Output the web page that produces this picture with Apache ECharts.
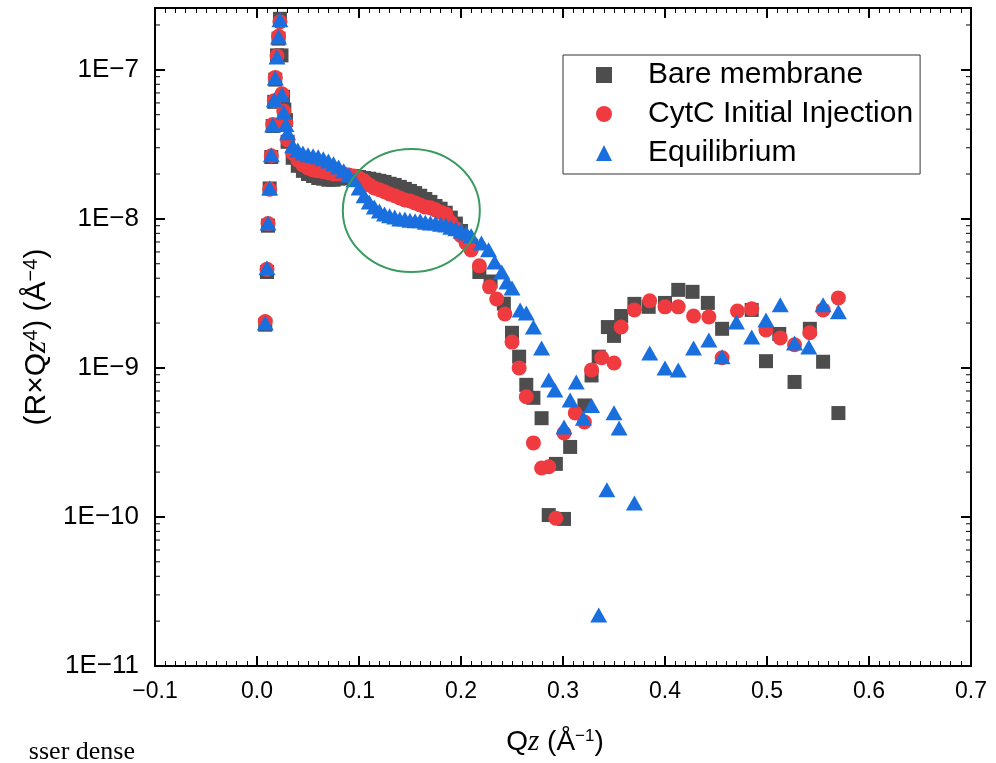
<!DOCTYPE html>
<html><head><meta charset="utf-8">
<script src="https://cdn.jsdelivr.net/npm/echarts@6/dist/echarts.min.js"></script>
<style>html,body{margin:0;padding:0;background:#fff}#c{width:996px;height:763px}</style>
</head><body><div id="c"></div>
<script>
// ---------- data (Qz in 1/Å, R×Qz^4 in Å^-4) ----------
const seriesNames = ['Bare membrane', 'CytC Initial Injection', 'Equilibrium'];

const qBare = [0.0081,0.0098,0.0108,0.0124,0.0140,0.0154,0.0169,0.0179,0.0196,0.0211,0.0225,0.0240,0.0255,0.0268,0.0284,
  0.030,0.035,0.040,0.045,0.050,0.055,0.060,0.065,0.070,0.075,0.080,0.085,0.090,0.095,0.100,0.105,0.110,0.115,0.120,0.125,
  0.130,0.135,0.140,0.145,0.150,0.155,0.160,0.165,0.170,0.175,0.180,0.185,0.190,0.195,0.200,0.205,0.210,
  0.218,0.229,0.242,0.250,0.257,0.264,0.271,0.279,0.286,0.293,0.301,0.307,0.321,0.328,0.335,0.344,0.350,0.357,0.370,0.384,
  0.400,0.413,0.427,0.442,0.456,0.485,0.499,0.512,0.527,0.542,0.555,0.570];
const rBare = [1.95e-9,4.4e-9,9.0e-9,1.6e-8,2.6e-8,4.2e-8,6.1e-8,8.6e-8,1.25e-7,1.62e-7,2.2e-7,1.25e-7,6.6e-8,5.4e-8,4.6e-8,
  3.29e-8,2.57e-8,2.27e-8,2.10e-8,2.00e-8,1.94e-8,1.88e-8,1.86e-8,1.83e-8,1.83e-8,1.86e-8,1.88e-8,1.91e-8,1.94e-8,1.91e-8,1.88e-8,1.86e-8,1.83e-8,1.80e-8,1.77e-8,
  1.72e-8,1.69e-8,1.64e-8,1.59e-8,1.54e-8,1.49e-8,1.43e-8,1.36e-8,1.30e-8,1.22e-8,1.17e-8,1.10e-8,1.02e-8,9.3e-9,8.3e-9,7.45e-9,6.6e-9,
  4.4e-9,3.8e-9,2.7e-9,1.72e-9,1.19e-9,7.7e-10,6.3e-10,4.6e-10,1.03e-10,2.27e-10,9.7e-11,2.95e-10,5.6e-10,8.9e-10,1.19e-9,1.88e-9,1.64e-9,2.23e-9,2.69e-9,2.57e-9,
  2.73e-9,3.34e-9,3.24e-9,2.73e-9,1.83e-9,2.45e-9,1.11e-9,1.69e-9,8.05e-10,1.83e-9,1.10e-9,4.98e-10];

const qCytc = [0.0081,0.0098,0.0108,0.0124,0.0140,0.0154,0.0169,0.0179,0.0196,0.0211,0.0225,0.0245,0.0262,0.0284,
  0.030,0.035,0.040,0.045,0.050,0.055,0.060,0.065,0.070,0.075,0.080,0.085,0.090,0.095,0.100,0.105,0.110,0.115,0.120,0.125,
  0.130,0.135,0.140,0.145,0.150,0.155,0.160,0.165,0.170,0.175,0.180,0.185,0.190,0.195,0.200,0.205,0.210,
  0.218,0.228,0.235,0.243,0.250,0.257,0.264,0.271,0.279,0.286,0.293,0.301,0.312,0.321,0.328,0.338,0.350,0.357,0.370,0.385,
  0.400,0.413,0.428,0.443,0.456,0.471,0.485,0.499,0.513,0.527,0.542,0.555,0.570];
const rCytc = [2.05e-9,4.6e-9,9.3e-9,1.58e-8,2.65e-8,4.3e-8,6.2e-8,8.9e-8,1.24e-7,1.68e-7,2.1e-7,6.9e-8,5.3e-8,4.4e-8,
  3.39e-8,2.77e-8,2.49e-8,2.30e-8,2.20e-8,2.13e-8,2.10e-8,2.07e-8,2.04e-8,2.00e-8,2.00e-8,2.00e-8,1.97e-8,1.94e-8,1.88e-8,1.80e-8,1.69e-8,1.61e-8,1.57e-8,1.52e-8,
  1.47e-8,1.43e-8,1.38e-8,1.34e-8,1.32e-8,1.28e-8,1.24e-8,1.20e-8,1.19e-8,1.15e-8,1.11e-8,1.08e-8,9.5e-9,8.6e-9,7.7e-9,6.9e-9,6.2e-9,
  4.84e-9,3.5e-9,2.9e-9,2.3e-9,1.49e-9,1.0e-9,6.4e-10,3.14e-10,2.13e-10,2.17e-10,9.8e-11,3.66e-10,4.98e-10,4.34e-10,9.7e-10,1.17e-9,1.08e-9,1.88e-9,2.45e-9,2.82e-9,
  2.57e-9,2.57e-9,2.23e-9,2.2e-9,1.17e-9,2.41e-9,2.49e-9,1.8e-9,1.59e-9,1.43e-9,1.72e-9,2.45e-9,2.95e-9];

const qEq = [0.0081,0.0098,0.0108,0.0124,0.0140,0.0154,0.0169,0.0179,0.0196,0.0211,0.0225,0.0245,0.0262,0.0284,
  0.030,0.035,0.040,0.045,0.050,0.055,0.060,0.065,0.070,0.075,0.080,0.085,0.090,0.095,0.100,0.105,0.110,0.115,0.120,0.125,
  0.130,0.135,0.140,0.145,0.150,0.155,0.160,0.165,0.170,0.175,0.180,0.185,0.190,0.195,0.200,0.205,0.210,
  0.220,0.227,0.233,0.240,0.245,0.250,0.258,0.264,0.271,0.279,0.286,0.292,0.301,0.307,0.313,0.320,0.328,0.335,0.343,0.350,
  0.355,0.370,0.385,0.400,0.413,0.428,0.443,0.456,0.470,0.485,0.499,0.513,0.527,0.541,0.555,0.570];
const rEq = [2.0e-9,4.7e-9,9.4e-9,1.61e-8,2.69e-8,4.27e-8,6.3e-8,8.8e-8,1.22e-7,1.66e-7,2.17e-7,6.8e-8,5.2e-8,4.3e-8,
  3.78e-8,3.09e-8,2.90e-8,2.77e-8,2.69e-8,2.65e-8,2.61e-8,2.53e-8,2.45e-8,2.34e-8,2.23e-8,2.10e-8,1.97e-8,1.83e-8,1.61e-8,1.43e-8,1.30e-8,1.20e-8,1.13e-8,1.08e-8,
  1.05e-8,1.03e-8,1.00e-8,1.00e-8,9.8e-9,9.7e-9,9.7e-9,9.5e-9,9.4e-9,9.4e-9,9.2e-9,9.1e-9,8.8e-9,8.6e-9,8.3e-9,8.05e-9,7.7e-9,
  6.9e-9,6.2e-9,5.14e-9,4.41e-9,3.77e-9,3.44e-9,2.45e-9,2.34e-9,1.88e-9,1.36e-9,8.3e-10,7.1e-10,4.02e-10,6.1e-10,8.05e-10,4.6e-10,5.6e-10,2.2e-11,1.52e-10,5.0e-10,
  3.96e-10,1.24e-10,1.26e-9,1.0e-9,9.7e-10,1.36e-9,1.54e-9,1.19e-9,2.03e-9,1.61e-9,2.1e-9,2.65e-9,1.47e-9,1.38e-9,2.65e-9,2.38e-9];

// axis ranges
const X_MIN = -0.1, X_MAX = 0.7, X_STEP = 0.1;
const Y_MIN = 1e-11, Y_MAX = 2.6e-7;
// minor tick values of the log axis (2..9 in each decade)
const yMinorTicks = [];
for (let e = -11; e <= -7; e++) for (let m = 2; m <= 9; m++) { const v = m * Math.pow(10, e); if (v < Y_MAX) yMinorTicks.push(v); }

// ---------- chart ----------
const zip = (q, r) => q.map((x, i) => [x, r[i]]);
const MINUS = '\u2212';
const fmtX = v => (v < -1e-9 ? MINUS : '') + Math.abs(v).toFixed(1);
const fmtY = v => { const e = Math.log10(v); const n = Math.round(e); if (Math.abs(e - n) > 1e-6) return ''; return '1E' + (n < 0 ? MINUS + (-n) : n); };
const FONT = 'Liberation Sans';
const xNameRich = {
  a: { fontFamily: FONT, fontSize: 28, color: '#000' },
  z: { fontFamily: 'Liberation Serif', fontStyle: 'italic', fontSize: 29, color: '#000' },
  s: { fontFamily: FONT, fontSize: 17, color: '#000', verticalAlign: 'top' }
};
const yNameRich = {
  a: { fontFamily: FONT, fontSize: 30, color: '#000' },
  z: { fontFamily: 'Liberation Serif', fontStyle: 'italic', fontSize: 31, color: '#000' },
  s: { fontFamily: FONT, fontSize: 20, color: '#000', verticalAlign: 'top' }
};
const axisLineStyle = { color: '#000', width: 2 };
const baseX = {
  type: 'value', min: X_MIN, max: X_MAX, interval: X_STEP,
  axisLine: { show: true, onZero: false, lineStyle: axisLineStyle },
  axisTick: { show: true, inside: true, length: 10, lineStyle: { color: '#000', width: 2 } },
  minorTick: { show: true, splitNumber: 10, length: 5, lineStyle: { color: '#000', width: 1 } },
  splitLine: { show: false }, minorSplitLine: { show: false }
};
const baseY = {
  type: 'log', logBase: 10, min: Y_MIN, max: Y_MAX,
  axisLine: { show: true, onZero: false, lineStyle: axisLineStyle },
  axisTick: { show: true, inside: true, length: 10, lineStyle: { color: '#000', width: 2 } },
  splitLine: { show: false }
};

const chart = echarts.init(document.getElementById('c'), null, { renderer: 'canvas' });
const option = {
  animation: false,
  backgroundColor: '#fff',
  grid: { left: 155, right: 25, top: 8, bottom: 97, containLabel: false },
  xAxis: [
    Object.assign({}, baseX, {
      position: 'bottom',
      axisLabel: { formatter: fmtX, fontFamily: FONT, fontSize: 23, color: '#000', margin: 14 },
      name: '{a|Q}{z|z}{a| (Å}{s|\u22121}{a|)}', nameLocation: 'middle', nameGap: 62,
      nameTextStyle: { rich: xNameRich, padding: [0, 16, 0, 0] }
    }),
    Object.assign({}, baseX, { position: 'top', axisLabel: { show: false } })
  ],
  yAxis: [
    Object.assign({}, baseY, {
      position: 'left',
      axisLabel: { formatter: fmtY, fontFamily: FONT, fontSize: 26, color: '#000', margin: 16, showMaxLabel: false },
      name: '{a|(R×Q}{z|z}{s|4}{a|) (Å}{s|\u22124}{a|)}', nameLocation: 'middle', nameGap: 101, nameRotate: 90,
      nameTextStyle: { rich: yNameRich }
    }),
    Object.assign({}, baseY, { position: 'right', axisLabel: { show: false } })
  ],
  legend: {
    data: seriesNames, orient: 'vertical', left: 563, top: 55,
    padding: [5, 7, 6, 33], itemGap: 9, itemWidth: 16, itemHeight: 16,
    borderColor: '#333', borderWidth: 1, backgroundColor: '#fff', selectedMode: false,
    formatter: n => '{t|' + n + '}',
    textStyle: { fontFamily: FONT, fontSize: 30, color: '#000',
      rich: { t: { fontFamily: FONT, fontSize: 30, lineHeight: 30, color: '#000', padding: [0, 0, 0, 31] } } }
  },
  series: [
    { type: 'scatter', name: seriesNames[0], symbol: 'rect', symbolSize: 14, z: 2,
      itemStyle: { color: '#4d4d4d', opacity: 1 }, emphasis: { disabled: true }, data: zip(qBare, rBare) },
    { type: 'scatter', name: seriesNames[1], symbol: 'circle', symbolSize: 15, z: 3,
      itemStyle: { color: '#ef3b40', opacity: 1 }, emphasis: { disabled: true }, data: zip(qCytc, rCytc) },
    { type: 'scatter', name: seriesNames[2], symbol: 'triangle', symbolSize: [17, 15], z: 4,
      itemStyle: { color: '#1a6fdf', opacity: 1 }, emphasis: { disabled: true }, data: zip(qEq, rEq) },
    { type: 'custom', name: 'yMinor', silent: true, z: 10, clip: false,
      data: yMinorTicks.map(v => [X_MIN, v]),
      renderItem: (params, api) => {
        const pl = api.coord([X_MIN, api.value(1)]);
        const pr = api.coord([X_MAX, api.value(1)]);
        const st = { stroke: '#000', lineWidth: 1 };
        return { type: 'group', children: [
          { type: 'line', shape: { x1: pl[0], y1: pl[1], x2: pl[0] + 5, y2: pl[1] }, style: st },
          { type: 'line', shape: { x1: pr[0] - 5, y1: pr[1], x2: pr[0], y2: pr[1] }, style: st }
        ] };
      } }
  ]
};
chart.setOption(option);

// annotation circle (placed by data coordinates) and the cropped caption text
const cc = chart.convertToPixel({ xAxisIndex: 0, yAxisIndex: 0 }, [0.1513, 1.14e-8]);
chart.setOption({
  graphic: [
    { type: 'ellipse', shape: { cx: cc[0], cy: cc[1], rx: 68.5, ry: 61.5 }, z: 100,
      style: { fill: 'none', stroke: '#3b9a60', lineWidth: 2 } },
    { type: 'text', x: 135, y: 752, z: 100,
      style: { text: 'sser dense', fill: '#000', font: '26px "Liberation Serif"', textAlign: 'right', textVerticalAlign: 'middle' } }
  ]
});
</script></body></html>
